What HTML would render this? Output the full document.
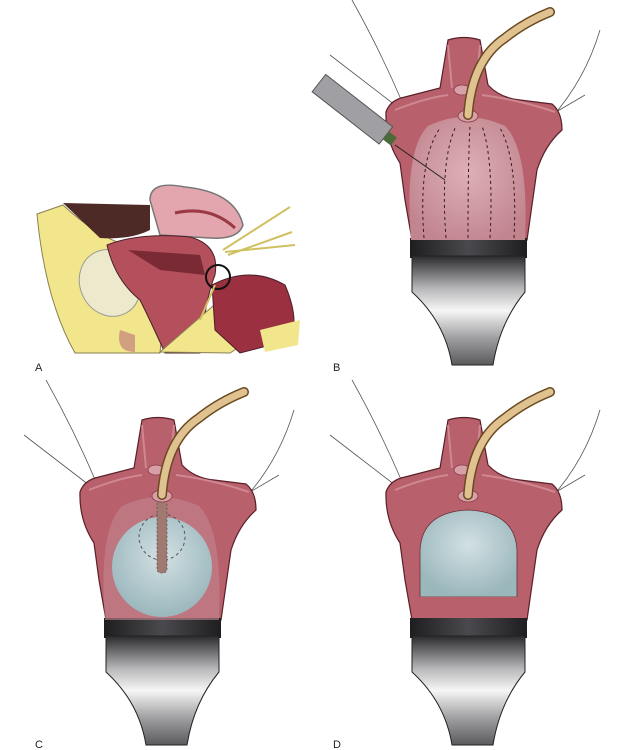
<!DOCTYPE html>
<html><head><meta charset="utf-8"><style>
html,body{margin:0;padding:0;background:#fff;}
svg{display:block}
text{font-family:"Liberation Sans",sans-serif;font-size:11px;fill:#222}
</style></head><body>
<svg width="635" height="750" viewBox="0 0 635 750" xmlns="http://www.w3.org/2000/svg">
<defs>
<linearGradient id="spec" x1="0" x2="0" y1="0" y2="1">
<stop offset="0" stop-color="#2a2a2c"/><stop offset="0.3" stop-color="#b8b8ba"/><stop offset="0.5" stop-color="#f6f6f6"/><stop offset="0.75" stop-color="#a0a0a2"/><stop offset="1" stop-color="#5a5a5c"/></linearGradient>
<linearGradient id="specTop" x1="0" x2="1"><stop offset="0" stop-color="#1e1e20"/><stop offset="0.5" stop-color="#4a4a4e"/><stop offset="1" stop-color="#1e1e20"/></linearGradient>
<radialGradient id="blue" cx="0.5" cy="0.4" r="0.6"><stop offset="0" stop-color="#d3e0e3"/><stop offset="1" stop-color="#9ab7bc"/></radialGradient>
<radialGradient id="dome" cx="0.5" cy="0.45" r="0.6"><stop offset="0" stop-color="#ddb0b6"/><stop offset="1" stop-color="#c28590"/></radialGradient>
<g id="panel">
 <path d="M352,0 Q380,50 403,104 M330,55 L395,105 M600,30 Q585,80 552,117 M585,95 L556,112" stroke="#555" stroke-width="0.8" fill="none"/>
 <path d="M448,40 Q464,35 480,40 L488,85 Q500,98 520,100 L552,104 Q562,112 562,130 Q545,145 537,170 L527,240 L412,240 L405,200 L400,163 Q385,140 386,112 Q390,100 405,97 L440,88 Z" fill="#b8606c" stroke="#5a2028" stroke-width="1.2"/>
 <path d="M395,110 Q425,98 448,95 M555,112 Q520,100 482,95 M448,45 L452,88 M480,45 L476,88" stroke="#d898a2" stroke-width="2" fill="none" opacity="0.7"/>
 <ellipse cx="462" cy="90" rx="8" ry="5" fill="#d7a0a8" stroke="#8a3a45" stroke-width="0.8"/>
 <rect x="410" y="238" width="117" height="20" fill="url(#specTop)"/>
 <path d="M412,256 L525,256 L525,292 Q500,322 493,365 L452,365 Q445,322 412,292 Z" fill="url(#spec)" stroke="#222" stroke-width="1"/>
</g>
</defs>

<!-- Panel B -->
<use href="#panel"/>
<path d="M411,240 Q404,150 428,126 Q465,108 505,126 Q529,150 525,240 Z" fill="url(#dome)"/>
<ellipse cx="468" cy="116" rx="10" ry="6" fill="#d7a0a8" stroke="#8a3a45" stroke-width="0.8"/>
<g stroke="#3a1a1e" stroke-width="1" stroke-dasharray="3,3" fill="none">
<path d="M424,238 Q418,160 440,128"/><path d="M446,238 Q440,160 456,126"/><path d="M468,238 Q468,160 470,126"/><path d="M490,238 Q494,160 482,126"/><path d="M514,238 Q518,160 500,128"/>
</g>
<g transform="rotate(38 355 110)"><rect x="310" y="100" width="85" height="22" fill="#a0a0a4" stroke="#555"/><rect x="395" y="106" width="10" height="10" fill="#4a6a3a"/></g>
<line x1="395" y1="145" x2="445" y2="180" stroke="#222" stroke-width="1"/>
<path d="M468,115 Q472,60 505,38 Q525,22 550,12" stroke="#6a4a20" stroke-width="10" fill="none" stroke-linecap="round"/>
<path d="M468,115 Q472,60 505,38 Q525,22 550,12" stroke="#e0c290" stroke-width="7" fill="none" stroke-linecap="round"/>

<!-- Panel C -->
<g transform="translate(-306,380)"><use href="#panel"/></g>
<path d="M105,620 Q98,530 122,506 Q159,488 199,506 Q223,530 219,620 Z" fill="#c28590" opacity="0.6"/>
<circle cx="162" cy="567" r="50" fill="url(#blue)"/>
<circle cx="162" cy="537" r="23" fill="none" stroke="#555" stroke-dasharray="3,3"/>
<rect x="157" y="500" width="10" height="73" rx="4" fill="#a07a70" stroke="#555" stroke-width="0.8" stroke-dasharray="2,2"/>
<ellipse cx="162" cy="496" rx="10" ry="6" fill="#d7a0a8" stroke="#8a3a45" stroke-width="0.8"/>
<path d="M162,495 Q166,440 199,418 Q219,402 244,392" stroke="#6a4a20" stroke-width="10" fill="none" stroke-linecap="round"/>
<path d="M162,495 Q166,440 199,418 Q219,402 244,392" stroke="#e0c290" stroke-width="7" fill="none" stroke-linecap="round"/>

<!-- Panel D -->
<g transform="translate(0,380)"><use href="#panel"/></g>
<path d="M420,597 L420,550 Q422,512 468,510 Q515,512 517,550 L517,597 Z" fill="url(#blue)" stroke="#6a3038" stroke-width="0.8"/>
<rect x="412" y="597" width="115" height="20" fill="#b8606c"/>
<ellipse cx="468" cy="496" rx="10" ry="6" fill="#d7a0a8" stroke="#8a3a45" stroke-width="0.8"/>
<path d="M468,495 Q472,440 505,418 Q525,402 550,392" stroke="#6a4a20" stroke-width="10" fill="none" stroke-linecap="round"/>
<path d="M468,495 Q472,440 505,418 Q525,402 550,392" stroke="#e0c290" stroke-width="7" fill="none" stroke-linecap="round"/>

<!-- Panel A -->
<path d="M37,214 L63,205 Q100,240 140,250 L165,300 L160,353 L75,353 Q45,300 37,214 Z" fill="#f2e68c" stroke="#8a8050"/>
<path d="M63,203 L150,205 L150,230 Q130,240 100,238 Z" fill="#4e2a26"/>
<ellipse cx="110" cy="283" rx="30" ry="34" transform="rotate(-25 110 283)" fill="#ece9cc" stroke="#999"/>
<path d="M120,330 Q115,352 135,352 L135,335 Z" fill="#d0a080"/>
<path d="M150,200 Q150,180 185,187 Q235,192 243,225 Q238,240 210,238 L160,235 Z" fill="#e4a6ae" stroke="#777" stroke-width="1.5"/>
<path d="M175,213 Q210,205 235,228" stroke="#9a3a45" stroke-width="3" fill="none"/>
<path d="M107,245 Q140,232 190,237 Q220,245 215,275 Q205,300 200,353 L165,353 Q150,320 140,300 Q115,280 107,245 Z" fill="#b4505c" stroke="#4a2028"/>
<path d="M128,250 L200,255 L205,275 L160,270 Z" fill="#7a2a34"/>
<path d="M160,352 L220,300 L250,340 L230,353 Z" fill="#f2e68c" stroke="#8a8050"/>
<path d="M212,285 Q250,265 285,285 Q300,320 290,340 L240,353 L215,330 Z" fill="#9a3040" stroke="#4a2028"/>
<path d="M260,330 L300,320 L298,345 L265,352 Z" fill="#f2e68c"/>
<circle cx="218" cy="277" r="12" fill="none" stroke="#111" stroke-width="2"/>
<path d="M223,250 L290,207 M228,255 L292,232 M225,252 L295,245 M215,285 L200,320" stroke="#d0c060" stroke-width="2" fill="none"/>

<text x="35" y="371">A</text>
<text x="333" y="371">B</text>
<text x="35" y="748">C</text>
<text x="333" y="748">D</text>
</svg>
</body></html>
